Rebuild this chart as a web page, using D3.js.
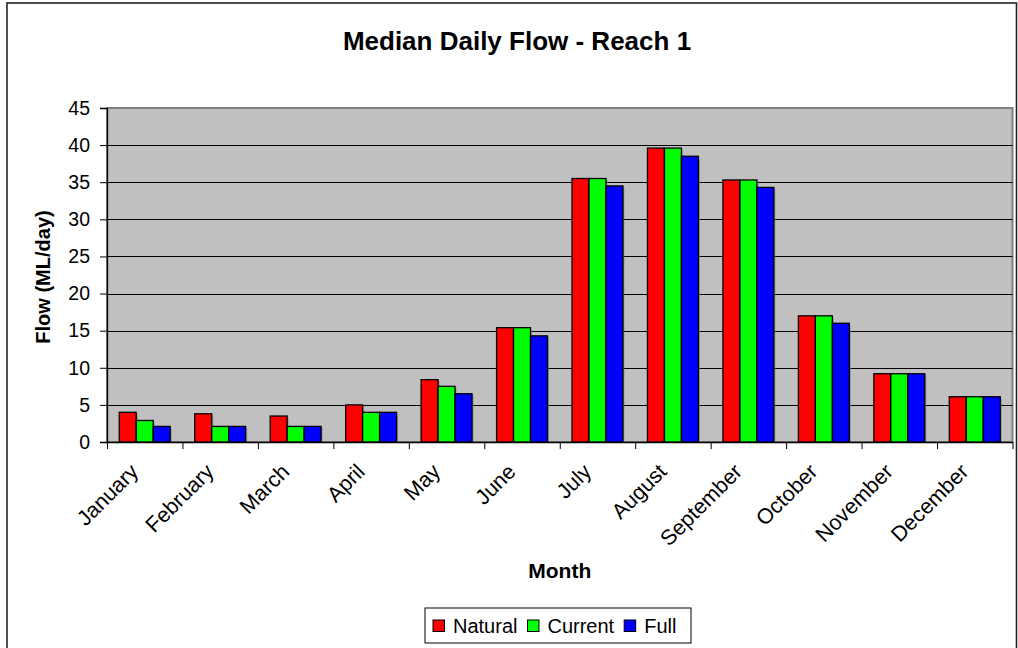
<!DOCTYPE html>
<html>
<head>
<meta charset="utf-8">
<script src="https://cdn.jsdelivr.net/npm/d3@7"></script>
<style>
  html, body { margin: 0; padding: 0; background: #fff; }
  svg { display: block; font-family: "Liberation Sans", Arial, sans-serif; }
</style>
</head>
<body>
<svg id="chart" width="1018" height="648"></svg>
<script>
const months = ["January","February","March","April","May","June","July","August","September","October","November","December"];
const seriesNames = ["Natural","Current","Full"];
const seriesColors = ["#ff0000","#00ff00","#0000ff"];
const natural = [4.0, 3.8, 3.5, 5.0, 8.4, 15.4, 35.5, 39.6, 35.3, 17.0, 9.2, 6.1];
const current = [2.9, 2.1, 2.1, 4.0, 7.5, 15.4, 35.5, 39.6, 35.3, 17.0, 9.2, 6.1];
const full    = [2.1, 2.1, 2.1, 4.0, 6.5, 14.3, 34.5, 38.5, 34.3, 16.0, 9.2, 6.1];
const yTicks = [0, 5, 10, 15, 20, 25, 30, 35, 40, 45];

const titleText = "Median Daily Flow - Reach 1";
const xTitle = "Month";
const yTitle = "Flow (ML/day)";

const seriesValues = [natural, current, full];
const rows = months.map((m, i) => ({ month: m, values: seriesNames.map((s, j) => ({ key: s, value: seriesValues[j][i], color: seriesColors[j] })) }));

const svg = d3.select("#chart");
const plot = { left: 107, right: 1012.5, top: 108, bottom: 442 };

// outer chart border
svg.append("rect").attr("x", 7).attr("y", 3).attr("width", 1009.5).attr("height", 700)
  .attr("fill", "#fff").attr("stroke", "#222").attr("stroke-width", 1.6);

const x0 = d3.scaleBand().domain(months).range([plot.left, plot.right]).paddingInner(0).paddingOuter(0);
const bw = x0.bandwidth();
const x1 = d3.scaleBand().domain(seriesNames).range([bw * 0.1625, bw * 0.8375]).padding(0);
const y = d3.scaleLinear().domain([0, 45]).range([plot.bottom, plot.top]);
const xIdx = d3.scaleLinear().domain([0, months.length]).range([plot.left, plot.right]);

// plot area
svg.append("rect").attr("x", plot.left).attr("y", plot.top)
  .attr("width", plot.right - plot.left).attr("height", plot.bottom - plot.top)
  .attr("fill", "#c0c0c0").attr("stroke", "#808080").attr("stroke-width", 2);

// gridlines
svg.append("g").selectAll("line").data(yTicks.filter(t => t > 0 && t < 45)).join("line")
  .attr("x1", plot.left).attr("x2", plot.right)
  .attr("y1", d => Math.round(y(d)) + 0.5).attr("y2", d => Math.round(y(d)) + 0.5)
  .attr("stroke", "#000").attr("stroke-width", 1);

// bars
const groups = svg.append("g").selectAll("g").data(rows).join("g")
  .attr("transform", d => `translate(${x0(d.month)},0)`);
groups.selectAll("rect.shadow").data(d => d.values).join("rect").attr("class", "shadow")
  .attr("x", d => x1(d.key) + 1.5).attr("y", d => y(d.value) + 1.5)
  .attr("width", x1.bandwidth()).attr("height", d => y(0) - y(d.value) - 1.5)
  .attr("fill", "#7a7a7a").attr("opacity", 0.6);
groups.selectAll("rect.bar").data(d => d.values).join("rect").attr("class", "bar")
  .attr("x", d => x1(d.key)).attr("y", d => y(d.value))
  .attr("width", x1.bandwidth()).attr("height", d => y(0) - y(d.value))
  .attr("fill", d => d.color).attr("stroke", "#000").attr("stroke-width", 1.3);

// y axis
const yAxis = svg.append("g").attr("transform", `translate(${plot.left},0)`)
  .call(d3.axisLeft(y).tickValues(yTicks).tickSize(7).tickPadding(10).tickFormat(d3.format("d")));
yAxis.select(".domain").attr("stroke", "#000").attr("stroke-width", 1.3);
yAxis.selectAll(".tick line").attr("stroke", "#000");
yAxis.selectAll("text").attr("font-size", 19.5).attr("fill", "#000").attr("font-family", "Liberation Sans, Arial, sans-serif");

// x axis
const xAxis = svg.append("g").attr("transform", `translate(0,${plot.bottom})`)
  .call(d3.axisBottom(xIdx).tickValues(d3.range(months.length + 1)).tickSize(7).tickSizeOuter(0).tickFormat(""));
xAxis.select(".domain").attr("stroke", "#000").attr("stroke-width", 1.3);
xAxis.selectAll(".tick line").attr("stroke", "#000");

// x labels
svg.append("g").selectAll("text").data(months).join("text")
  .attr("transform", d => `translate(${x0(d) + bw / 2 - 5},${plot.bottom + 31}) rotate(-45)`)
  .attr("text-anchor", "end").attr("font-size", 21.5).attr("fill", "#000")
  .text(d => d);

// title
svg.append("text").attr("x", 517).attr("y", 50).attr("text-anchor", "middle")
  .attr("font-size", 26).attr("font-weight", "bold").attr("fill", "#000").text(titleText);

// axis titles
svg.append("text").attr("x", plot.left + (plot.right - plot.left) / 2).attr("y", 578)
  .attr("text-anchor", "middle").attr("font-size", 21).attr("font-weight", "bold").text(xTitle);
svg.append("text").attr("transform", `translate(50,${(plot.top + plot.bottom) / 2 + 2}) rotate(-90)`)
  .attr("text-anchor", "middle").attr("font-size", 20).attr("font-weight", "bold").text(yTitle);

// legend
const legend = svg.append("g");
legend.append("rect").attr("x", 425).attr("y", 608).attr("width", 266).attr("height", 35)
  .attr("fill", "#fff").attr("stroke", "#000").attr("stroke-width", 1);
let lx = 433;
seriesNames.forEach((s, i) => {
  legend.append("rect").attr("x", lx).attr("y", 620).attr("width", 11.5).attr("height", 11.5)
    .attr("fill", seriesColors[i]).attr("stroke", "#000").attr("stroke-width", 1);
  const t = legend.append("text").attr("x", lx + 20).attr("y", 632.5).attr("font-size", 20).attr("fill", "#000").text(s);
  lx = lx + 20 + t.node().getComputedTextLength() + 10;
});
</script>
</body>
</html>
